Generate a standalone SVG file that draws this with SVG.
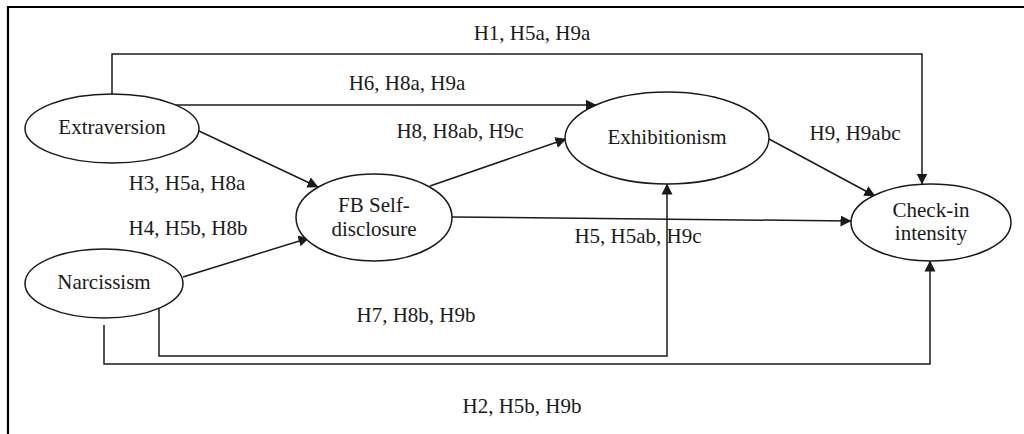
<svg xmlns="http://www.w3.org/2000/svg" width="1024" height="434" viewBox="0 0 1024 434">
<defs>
<marker id="arr" markerUnits="userSpaceOnUse" markerWidth="11" markerHeight="12" viewBox="0 0 11 12" refX="10.5" refY="6" orient="auto">
<path d="M0,0.5 L11,6 L0,11.5 Z" fill="#1a1a1a"/>
</marker>
<style>
.n{fill:#fff;stroke:#1a1a1a;stroke-width:1.5}
.c{fill:none;stroke:#1a1a1a;stroke-width:1.5}
text{font-family:"Liberation Serif","Times New Roman",serif;font-size:21px;fill:#1a1a1a;text-anchor:middle}
.b{fill:none;stroke:#000;stroke-width:2.2}
</style>
</defs>
<rect width="1024" height="434" fill="#fff"/>
<path class="b" d="M8,434 L8,7 L1024,7"/>
<g id="connectors">
<path class="c" d="M112,94 L112,54 L922,54 L922,184" marker-end="url(#arr)"/>
<path class="c" d="M173,105 L596,105" marker-end="url(#arr)"/>
<path class="c" d="M199,131 L318,187" marker-end="url(#arr)"/>
<path class="c" d="M430,186 L566,139" marker-end="url(#arr)"/>
<path class="c" d="M769,139 L875,196" marker-end="url(#arr)"/>
<path class="c" d="M452,217 L851,221" marker-end="url(#arr)"/>
<path class="c" d="M183,277 L309,238" marker-end="url(#arr)"/>
<path class="c" d="M159,307 L159,356 L667,356 L667,184" marker-end="url(#arr)"/>
<path class="c" d="M104,325 L104,364 L930,364 L930,261" marker-end="url(#arr)"/>
<text x="532" y="40">H1, H5a, H9a</text>
<text x="407" y="90">H6, H8a, H9a</text>
<text x="187" y="190">H3, H5a, H8a</text>
<text x="460" y="138">H8, H8ab, H9c</text>
<text x="855" y="140">H9, H9abc</text>
<text x="638" y="243">H5, H5ab, H9c</text>
<text x="188" y="235">H4, H5b, H8b</text>
<text x="416" y="322">H7, H8b, H9b</text>
<text x="522" y="413">H2, H5b, H9b</text>
</g>
<g id="extraversion">
<ellipse class="n" cx="112" cy="128.5" rx="87" ry="34.5"/>
<text x="112" y="134">Extraversion</text>
</g>
<g id="narcissism">
<ellipse class="n" cx="104" cy="283.5" rx="79" ry="34.5"/>
<text x="104" y="289">Narcissism</text>
</g>
<g id="fb-self-disclosure">
<ellipse class="n" cx="374" cy="217.5" rx="78" ry="43.5"/>
<text x="374" y="212">FB Self-</text>
<text x="374" y="236">disclosure</text>
</g>
<g id="exhibitionism">
<ellipse class="n" cx="667" cy="138" rx="102" ry="46"/>
<text x="667" y="144">Exhibitionism</text>
</g>
<g id="check-in-intensity">
<ellipse class="n" cx="931" cy="222.5" rx="80" ry="38.5"/>
<text x="931" y="217">Check-in</text>
<text x="931" y="240">intensity</text>
</g>
</svg>
